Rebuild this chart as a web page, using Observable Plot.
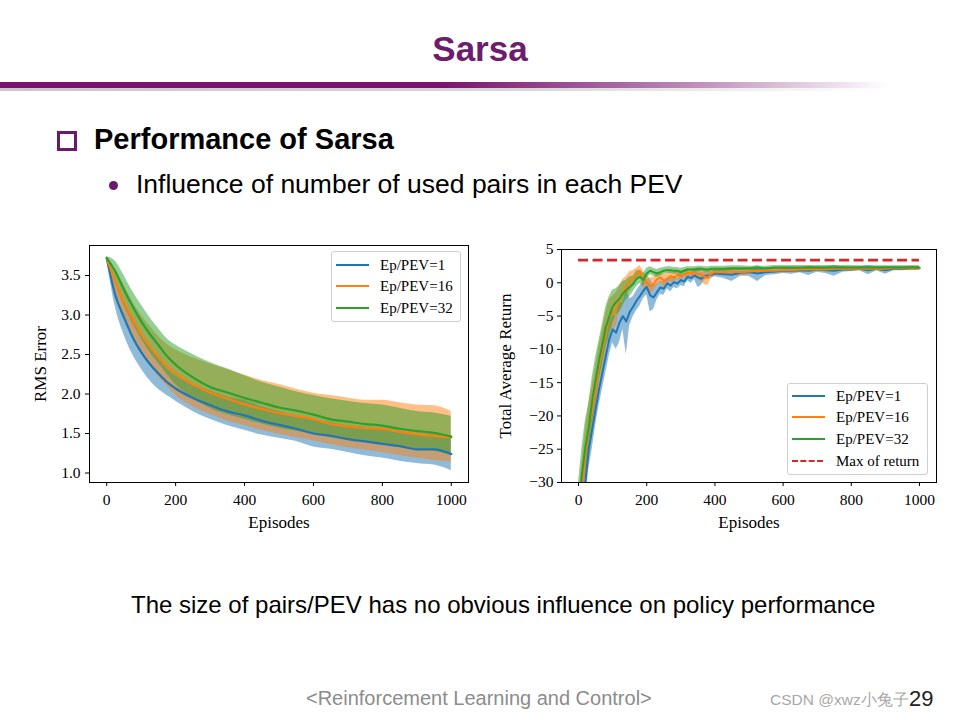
<!DOCTYPE html>
<html>
<head>
<meta charset="utf-8">
<script src="https://cdn.jsdelivr.net/npm/d3@7"></script>
<script src="https://cdn.jsdelivr.net/npm/@observablehq/plot@0.6"></script>
<style>
  html, body { margin: 0; padding: 0; background: #fff; }
  body { width: 960px; height: 720px; position: relative; overflow: hidden; font-family: "Liberation Sans", Arial, sans-serif; }
  .abs { position: absolute; white-space: nowrap; }
  .legend { position: absolute; border: 1px solid #cfcfcf; border-radius: 3px; background: rgba(255,255,255,0.85); font-family: "Liberation Serif", serif; font-size: 15px; color: #000; }
  .legend .row { position: absolute; left: 0; right: 0; height: 20px; }
  .legend .sw { position: absolute; left: 4px; width: 33px; top: 9px; height: 0; border-top: 2.5px solid; }
  .legend .lb { position: absolute; left: 48px; top: 0; line-height: 20px; white-space: nowrap; }
</style>
</head>
<body>
<div class="abs" style="left:0;width:960px;text-align:center;top:31px;font-size:35px;line-height:35px;font-weight:bold;color:#6c1d6e;">Sarsa</div>
<div class="abs" style="left:0;top:82px;width:890px;height:6px;background:linear-gradient(to right,#7a1470 0%,#7a1470 50%,rgba(122,20,112,0.55) 75%,rgba(122,20,112,0) 100%);"></div>
<div class="abs" style="left:0;top:88px;width:890px;height:3px;background:linear-gradient(to right,#c8c8c8 0%,#d8d8d8 60%,rgba(220,220,220,0) 100%);"></div>

<div class="abs" style="left:57px;top:131px;width:14px;height:14px;border:3px solid #6b1a6b;"></div>
<div class="abs" style="left:94px;top:125px;font-size:29px;line-height:29px;font-weight:bold;color:#000;">Performance of Sarsa</div>
<div class="abs" style="left:109px;top:181px;width:9px;height:9px;border-radius:50%;background:#6b1a6b;"></div>
<div class="abs" style="left:136px;top:171px;font-size:26.5px;line-height:26.5px;color:#000;">Influence of number of used pairs in each PEV</div>

<div id="left" class="abs" style="left:0;top:230px;"></div>
<div id="right" class="abs" style="left:480px;top:230px;"></div>

<div class="legend" style="left:331px;top:251px;width:128px;height:69px;">
  <div class="row" style="top:3px;"><div class="sw" style="border-color:#1f77b4"></div><div class="lb">Ep/PEV=1</div></div>
  <div class="row" style="top:24px;"><div class="sw" style="border-color:#ff7f0e"></div><div class="lb">Ep/PEV=16</div></div>
  <div class="row" style="top:46px;"><div class="sw" style="border-color:#2ca02c"></div><div class="lb">Ep/PEV=32</div></div>
</div>
<div class="legend" style="left:787px;top:383px;width:139px;height:90px;">
  <div class="row" style="top:2px;"><div class="sw" style="border-color:#1f77b4"></div><div class="lb">Ep/PEV=1</div></div>
  <div class="row" style="top:23px;"><div class="sw" style="border-color:#ff7f0e"></div><div class="lb">Ep/PEV=16</div></div>
  <div class="row" style="top:45px;"><div class="sw" style="border-color:#2ca02c"></div><div class="lb">Ep/PEV=32</div></div>
  <div class="row" style="top:67px;"><div class="sw" style="border-top:2.5px dashed #d62728;width:31px"></div><div class="lb">Max of return</div></div>
</div>

<div class="abs" style="left:131px;top:593px;font-size:24px;line-height:24px;color:#000;">The size of pairs/PEV has no obvious influence on policy performance</div>
<div class="abs" style="left:306px;top:688px;font-size:20px;line-height:20px;color:#8c8c8c;">&lt;Reinforcement Learning and Control&gt;</div>
<div class="abs" style="left:770px;top:692px;font-size:15.5px;line-height:16px;color:#a8a8a8;">CSDN @xwz小兔子</div>
<div class="abs" style="left:909px;top:688px;font-size:22px;line-height:22px;color:#222;">29</div>

<script>
// ---------- Left chart: RMS Error ----------
const rmsEpisodes = [0,25,50,75,100,125,150,175,200,250,300,350,400,450,500,550,600,650,700,750,800,850,900,950,1000];
const rmsMean1  = [3.72,3.25,2.97,2.72,2.53,2.38,2.26,2.15,2.07,1.95,1.86,1.78,1.73,1.66,1.61,1.56,1.50,1.47,1.43,1.40,1.37,1.34,1.30,1.30,1.24];
const rmsLow1   = [3.70,3.10,2.75,2.50,2.32,2.17,2.06,1.98,1.91,1.78,1.68,1.60,1.54,1.48,1.44,1.40,1.33,1.30,1.26,1.22,1.19,1.15,1.12,1.10,1.03];
const rmsHigh1  = [3.74,3.40,3.18,2.94,2.74,2.59,2.46,2.32,2.23,2.12,2.04,1.96,1.92,1.84,1.78,1.72,1.67,1.64,1.60,1.58,1.55,1.53,1.48,1.50,1.45];
const rmsMean16 = [3.72,3.42,3.16,2.95,2.76,2.60,2.47,2.35,2.26,2.12,2.02,1.94,1.87,1.81,1.76,1.72,1.68,1.62,1.59,1.57,1.56,1.52,1.49,1.47,1.45];
const rmsLow16  = [3.70,3.26,2.95,2.72,2.52,2.36,2.22,2.10,1.98,1.84,1.74,1.66,1.60,1.54,1.49,1.45,1.41,1.36,1.32,1.29,1.26,1.22,1.19,1.16,1.14];
const rmsHigh16 = [3.74,3.58,3.38,3.17,3.00,2.86,2.73,2.63,2.56,2.46,2.38,2.31,2.24,2.17,2.12,2.06,2.01,1.98,1.95,1.92,1.92,1.89,1.86,1.85,1.78];
const rmsMean32 = [3.72,3.55,3.32,3.11,2.92,2.76,2.62,2.48,2.37,2.21,2.09,2.02,1.95,1.89,1.83,1.79,1.74,1.68,1.65,1.62,1.60,1.56,1.53,1.51,1.46];
const rmsLow32  = [3.70,3.40,3.12,2.90,2.70,2.53,2.39,2.25,2.12,1.95,1.82,1.74,1.68,1.62,1.57,1.53,1.50,1.45,1.42,1.39,1.37,1.33,1.30,1.28,1.22];
const rmsHigh32 = [3.74,3.68,3.50,3.30,3.13,2.97,2.83,2.70,2.62,2.50,2.40,2.32,2.23,2.15,2.09,2.03,1.98,1.94,1.91,1.88,1.86,1.82,1.78,1.76,1.72];

// ---------- Right chart: Total Average Return ----------
const retEpisodes = [0,10,20,30,40,50,60,70,80,90,100,110,120,130,140,150,160,170,180,190,200,210,220,230,240,250,260,270,280,290,300,310,320,330,340,350,360,370,380,390,400,
  425,450,475,500,525,550,575,600,625,650,675,700,725,750,775,800,825,850,875,900,925,950,975,1000];
const retMean1  = [-38,-34,-30,-25,-22,-19,-16,-13.5,-11,-8.5,-7,-7.5,-6,-5,-5.8,-4.4,-3.6,-2.7,-2,-1.2,-0.6,-1.9,-2.2,-1.4,-0.7,-0.9,-0.1,-0.4,0.1,-0.1,0.4,0.2,0.9,0.7,1.1,0.8,0.6,1.0,1.1,1.2,1.4,
  1.3,1.2,1.5,1.6,1.4,1.6,1.7,1.8,1.8,1.9,1.8,2.0,1.9,1.8,2.0,2.0,2.1,1.9,2.1,1.9,2.1,2.1,2.2,2.2];
const retSpread1 = [3,3,3,3,3,2.5,2.5,2.5,2.5,2.5,2,2.5,3,2,5,2,1.5,1.5,1.5,1.2,1.2,2.5,1.8,1.2,1,1,0.8,1,0.8,0.8,0.8,0.8,0.6,0.8,0.6,1.5,1.0,0.6,0.6,0.5,0.5,
  0.6,1.0,0.5,0.6,1.2,0.5,0.5,0.4,0.5,0.4,0.7,0.4,0.5,0.8,0.4,0.3,0.3,0.7,0.3,0.6,0.3,0.3,0.3,0.3];
const retMean16 = [-36,-31,-26,-22,-19,-16,-12.5,-10,-7.5,-5,-4.5,-4,-2.5,-1.5,-0.5,0.2,0.6,1.2,1.8,0.5,0.0,-0.5,-0.2,0.5,0.8,0.3,0.6,1.0,0.8,1.2,1.0,1.3,1.5,1.4,1.6,1.3,1.2,0.9,0.8,1.4,1.6,
  1.6,1.7,1.6,1.7,1.8,1.8,1.8,1.9,1.9,2.0,2.0,2.0,2.0,2.1,2.1,2.1,2.1,2.1,2.1,2.1,2.2,2.2,2.2,2.2];
const retSpread16 = [4,4,4,4,3.5,3.5,3,3,3,2.5,2.5,2.5,2,2,1.5,1.5,1.2,1,0.8,1.2,1.2,1.2,1,1,0.8,1,0.8,0.8,0.8,0.6,0.8,0.6,0.6,0.6,0.6,0.8,1.0,1.2,1.2,0.6,0.5,
  0.5,0.6,0.5,0.5,0.4,0.4,0.4,0.4,0.4,0.3,0.4,0.3,0.3,0.3,0.3,0.3,0.3,0.3,0.3,0.3,0.3,0.3,0.3,0.3];
const retMean32 = [-34,-28.7,-24.7,-21.7,-17.7,-14.7,-11.7,-9.2,-6.6,-5.1,-3.6,-2.9,-2.4,-1.6,-1.1,-0.6,-0.2,0.6,0.9,0.4,1.4,1.8,1.6,1.4,1.6,1.8,1.9,1.9,1.8,1.8,1.6,1.8,2.0,2.0,2.0,2.1,2.1,2.0,2.0,2.1,2.1,
  2.1,2.2,2.2,2.2,2.2,2.2,2.3,2.3,2.3,2.3,2.3,2.3,2.3,2.3,2.3,2.3,2.3,2.3,2.3,2.3,2.3,2.3,2.3,2.3];
const retSpread32 = [4,4,4,3.5,3.5,3.5,3,3,3,3,2.5,2,2,1.8,1.5,1.5,1.2,1.2,1,1,0.8,0.6,0.6,0.6,0.6,0.5,0.5,0.5,0.5,0.5,0.6,0.5,0.4,0.4,0.4,0.4,0.4,0.4,0.4,0.4,0.4,
  0.4,0.35,0.35,0.3,0.3,0.3,0.3,0.3,0.3,0.3,0.3,0.3,0.3,0.3,0.3,0.3,0.25,0.25,0.25,0.25,0.25,0.25,0.25,0.25];
const maxReturn = 3.4;

const seriesNames = ["Ep/PEV=1", "Ep/PEV=16", "Ep/PEV=32"];
const seriesColors = ["#1f77b4", "#ff7f0e", "#2ca02c"];
const maxColor = "#d62728";
const xTicks = [0, 200, 400, 600, 800, 1000];
const rmsTicks = [1.0, 1.5, 2.0, 2.5, 3.0, 3.5];
const retTicks = [-30, -25, -20, -15, -10, -5, 0, 5];

const rmsSeries = [
  {mean: rmsMean1, lo: rmsLow1, hi: rmsHigh1},
  {mean: rmsMean16, lo: rmsLow16, hi: rmsHigh16},
  {mean: rmsMean32, lo: rmsLow32, hi: rmsHigh32}
].map((s, k) => rmsEpisodes.map((ep, i) => ({series: seriesNames[k], ep, mean: s.mean[i], lo: s.lo[i], hi: s.hi[i]})));

const retSeries = [
  {mean: retMean1, sp: retSpread1},
  {mean: retMean16, sp: retSpread16},
  {mean: retMean32, sp: retSpread32}
].map((s, k) => retEpisodes.map((ep, i) => ({series: seriesNames[k], ep, mean: s.mean[i], lo: s.mean[i] - s.sp[i], hi: s.mean[i] + s.sp[i]})));

const serif = "'Liberation Serif', 'Times New Roman', serif";
const chartStyle = {fontFamily: serif, fontSize: "15.5px", color: "#000", background: "transparent", overflow: "visible"};
const tickFont = 15.5, labelFont = 17;

const left = Plot.plot({
  width: 480, height: 310,
  marginLeft: 89, marginRight: 12, marginTop: 15, marginBottom: 58,
  x: {domain: [-50, 1050]},
  y: {domain: [0.88, 3.88]},
  style: chartStyle,
  marks: [
    ...rmsSeries.map((d, k) => Plot.areaY(d, {x: "ep", y1: "lo", y2: "hi", fill: seriesColors[k], fillOpacity: 0.5, curve: "monotone-x"})),
    ...rmsSeries.map((d, k) => Plot.lineY(d, {x: "ep", y: "mean", stroke: seriesColors[k], strokeWidth: 2.2, curve: "monotone-x"})),
    Plot.frame({stroke: "#000", strokeWidth: 1}),
    Plot.axisX({ticks: xTicks, tickSize: 4, tickPadding: 7, tickFormat: d => String(d), fontSize: tickFont, label: null}),
    Plot.axisY({ticks: rmsTicks, tickSize: 4, tickPadding: 5, tickFormat: d3.format(".1f"), fontSize: tickFont, label: null}),
    Plot.text(["Episodes"], {frameAnchor: "bottom", dy: 45, fontSize: labelFont}),
    Plot.text(["RMS Error"], {frameAnchor: "left", textAnchor: "middle", rotate: -90, dx: -49, fontSize: labelFont})
  ]
});
document.getElementById("left").appendChild(left);

const right = Plot.plot({
  width: 480, height: 310,
  marginLeft: 81, marginRight: 24, marginTop: 19, marginBottom: 58,
  x: {domain: [-50, 1050]},
  y: {domain: [-30, 5]},
  style: chartStyle,
  marks: [
    ...retSeries.map((d, k) => Plot.areaY(d, {x: "ep", y1: "lo", y2: "hi", fill: seriesColors[k], fillOpacity: 0.5, clip: true})),
    ...retSeries.map((d, k) => Plot.lineY(d, {x: "ep", y: "mean", stroke: seriesColors[k], strokeWidth: 2, clip: true})),
    Plot.ruleY([maxReturn], {x1: 0, x2: 1000, stroke: maxColor, strokeWidth: 2.8, strokeDasharray: "10,4.5"}),
    Plot.frame({stroke: "#000", strokeWidth: 1}),
    Plot.axisX({ticks: xTicks, tickSize: 4, tickPadding: 7, tickFormat: d => String(d), fontSize: tickFont, label: null}),
    Plot.axisY({ticks: retTicks, tickSize: 4, tickPadding: 4, fontSize: tickFont, label: null}),
    Plot.text(["Episodes"], {frameAnchor: "bottom", dy: 45, fontSize: labelFont}),
    Plot.text(["Total Average Return"], {frameAnchor: "left", textAnchor: "middle", rotate: -90, dx: -56, fontSize: labelFont})
  ]
});
document.getElementById("right").appendChild(right);
</script>
</body>
</html>
